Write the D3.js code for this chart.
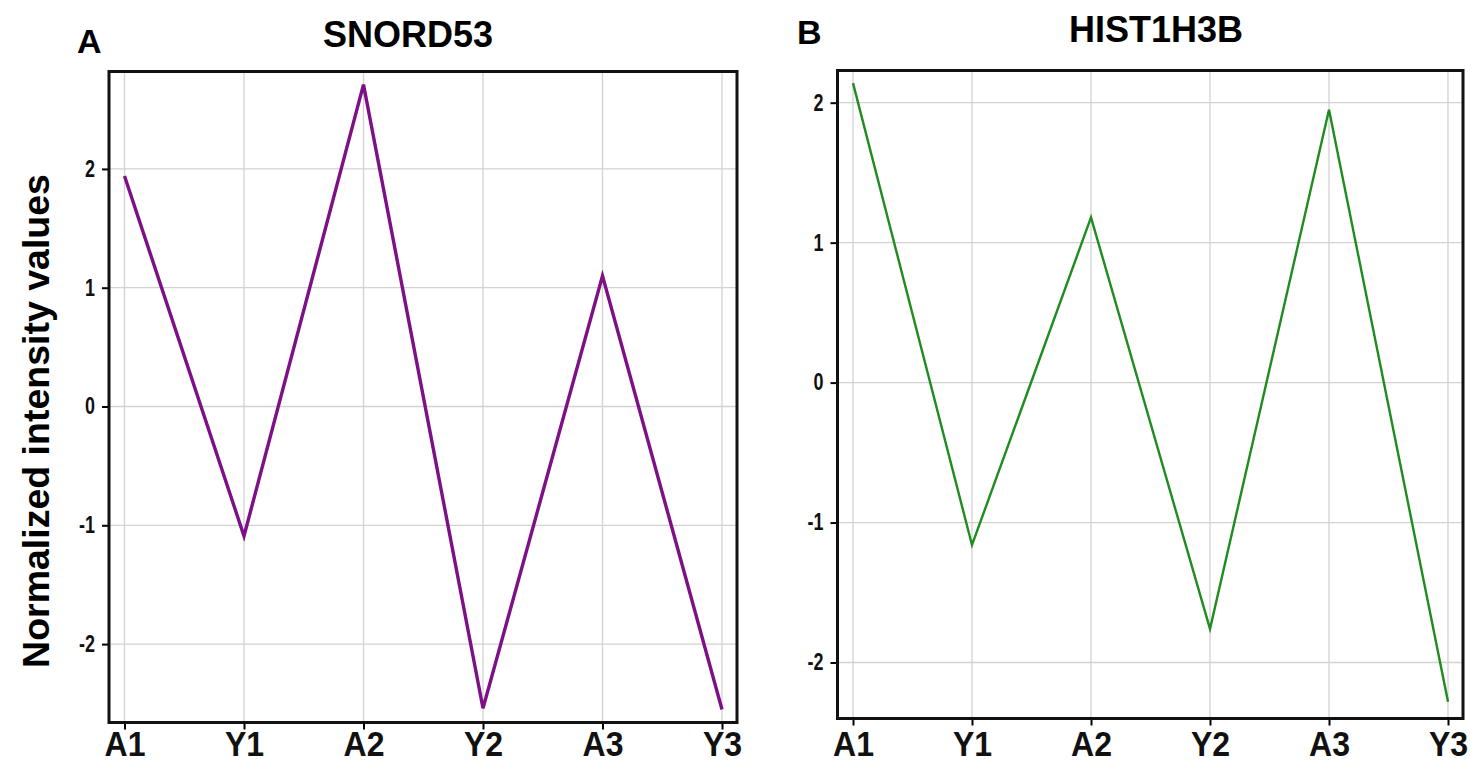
<!DOCTYPE html>
<html>
<head>
<meta charset="utf-8">
<script src="https://cdn.jsdelivr.net/npm/d3@7"></script>
<style>
  body { margin: 0; background: #fff; }
</style>
</head>
<body>
<div id="chart"></div>
<script>
const categories = ["A1", "Y1", "A2", "Y2", "A3", "Y3"];
const yTicks = [-2, -1, 0, 1, 2];

const snordValues = [1.94, -1.09, 2.71, -2.54, 1.10, -2.55];
const histValues = [2.14, -1.16, 1.18, -1.76, 1.95, -2.28];

const w = 1478;
const h = 764;
const font = "Liberation Sans, Arial, sans-serif";

const svg = d3.select("#chart")
              .append("svg")
              .attr("width", w)
              .attr("height", h);

// y axis title shared by both panels
svg.append("text")
   .attr("transform", "translate(49, 421) rotate(-90)")
   .attr("text-anchor", "middle")
   .style("font-family", font)
   .style("font-weight", "bold")
   .style("font-size", "37.5px")
   .text("Normalized intensity values");

const panels = [
    {letter: "A", title: "SNORD53", values: snordValues, color: "#7d0f87", width: 3.4,
     left: 109, right: 737, top: 71.5, bottom: 722.5, yDomain: [-2.66, 2.82],
     letterX: 77, letterY: 53, titleX: 408, titleY: 47},
    {letter: "B", title: "HIST1H3B", values: histValues, color: "#1f8c1f", width: 2.4,
     left: 837.5, right: 1463, top: 70.5, bottom: 718.5, yDomain: [-2.40, 2.23],
     letterX: 797, letterY: 43.5, titleX: 1156, titleY: 42}
];

const squeeze = 0.78;

panels.forEach(p => {
    const xScale = d3.scalePoint()
                     .domain(categories)
                     .range([p.left + 15.5, p.right - 15]);
    const yScale = d3.scaleLinear()
                     .domain(p.yDomain)
                     .range([p.bottom, p.top]);

    const g = svg.append("g");

    // grid
    g.selectAll(".vgrid")
     .data(categories)
     .enter()
     .append("line")
     .attr("x1", d => xScale(d))
     .attr("x2", d => xScale(d))
     .attr("y1", p.top)
     .attr("y2", p.bottom)
     .attr("stroke", "#d2d2d2")
     .attr("stroke-width", 1.3);

    g.selectAll(".hgrid")
     .data(yTicks)
     .enter()
     .append("line")
     .attr("x1", p.left)
     .attr("x2", p.right)
     .attr("y1", d => yScale(d))
     .attr("y2", d => yScale(d))
     .attr("stroke", "#d2d2d2")
     .attr("stroke-width", 1.3);

    // data line
    const line = d3.line()
                   .x((d, i) => xScale(categories[i]))
                   .y(d => yScale(d));

    g.append("path")
     .datum(p.values)
     .attr("d", line)
     .attr("fill", "none")
     .attr("stroke", p.color)
     .attr("stroke-width", p.width)
     .attr("stroke-linejoin", "miter");

    // axes
    const yAxis = d3.axisLeft(yScale)
                    .tickValues(yTicks)
                    .tickSize(7)
                    .tickSizeOuter(0)
                    .tickFormat(d => String(d));
    const ya = g.append("g")
                .attr("transform", `translate(${p.left}, 0)`)
                .call(yAxis);
    ya.select(".domain").remove();
    ya.selectAll("line").attr("stroke", "#000").attr("stroke-width", 2);
    ya.selectAll("text")
      .attr("x", -14 / squeeze)
      .attr("transform", `scale(${squeeze}, 1)`)
      .attr("fill", "#111")
      .style("font-family", font)
      .style("font-weight", "bold")
      .style("font-size", "23px");

    const xAxis = d3.axisBottom(xScale)
                    .tickSize(7)
                    .tickSizeOuter(0);
    const xa = g.append("g")
                .attr("transform", `translate(0, ${p.bottom})`)
                .call(xAxis);
    xa.select(".domain").remove();
    xa.selectAll("line").attr("stroke", "#000").attr("stroke-width", 2);
    xa.selectAll("text")
      .attr("y", 0)
      .attr("dy", 0)
      .attr("transform", `translate(0, ${756 - p.bottom}) scale(1, 1.08)`)
      .attr("fill", "#111")
      .style("font-family", font)
      .style("font-weight", "bold")
      .style("font-size", "32px");

    // frame
    g.append("rect")
     .attr("x", p.left)
     .attr("y", p.top)
     .attr("width", p.right - p.left)
     .attr("height", p.bottom - p.top)
     .attr("fill", "none")
     .attr("stroke", "#111")
     .attr("stroke-width", 3);

    // titles
    g.append("text")
     .attr("x", p.letterX)
     .attr("y", p.letterY)
     .style("font-family", font)
     .style("font-weight", "bold")
     .style("font-size", "34px")
     .text(p.letter);

    g.append("text")
     .attr("x", p.titleX)
     .attr("y", p.titleY)
     .attr("text-anchor", "middle")
     .style("font-family", font)
     .style("font-weight", "bold")
     .style("font-size", "36px")
     .text(p.title);
});
</script>
</body>
</html>
